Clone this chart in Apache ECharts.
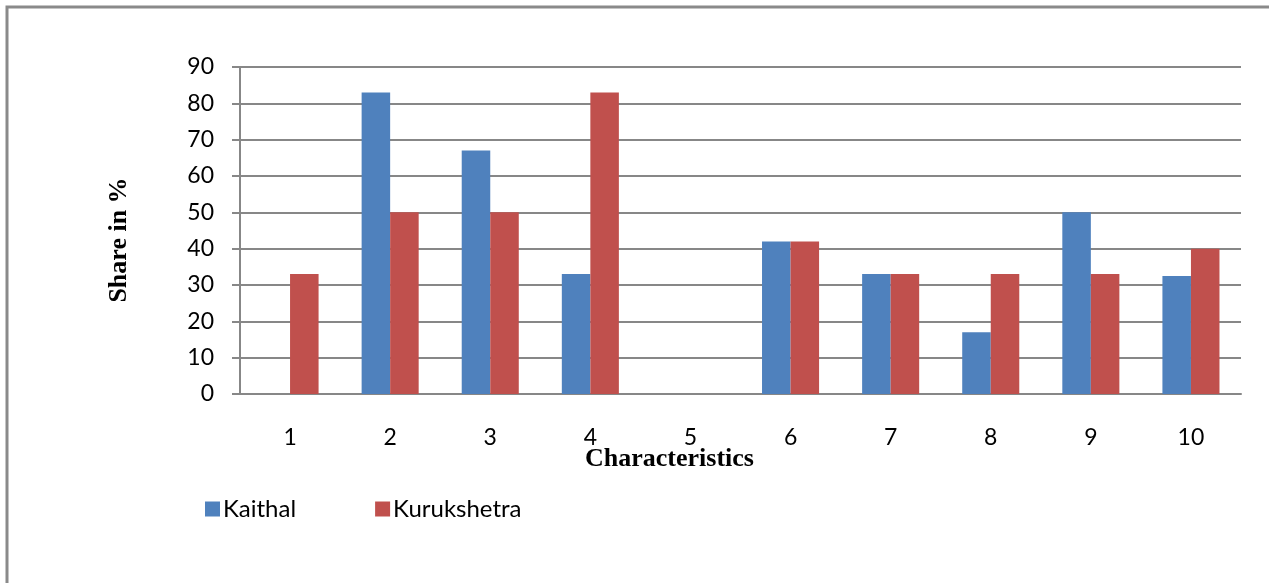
<!DOCTYPE html>
<html>
<head>
<meta charset="utf-8">
<script src="https://cdn.jsdelivr.net/npm/echarts@6/dist/echarts.min.js"></script>
<style>
  html, body { margin: 0; padding: 0; background: #ffffff; }
  #chart { width: 1269px; height: 583px; }
</style>
</head>
<body>
<div id="chart"></div>
<script>
const categories = ['1', '2', '3', '4', '5', '6', '7', '8', '9', '10'];
const kaithal = [0, 83, 67, 33, 0, 42, 33, 17, 50, 32.5];
const kurukshetra = [33, 50, 50, 83, 0, 42, 33, 33, 33, 40];
const seriesNames = ['Kaithal', 'Kurukshetra'];
const yAxisTitle = 'Share in %';
const xAxisTitle = 'Characteristics';

const chart = echarts.init(document.getElementById('chart'), null, { renderer: 'canvas' });
const labelFont = 'Lato';
chart.setOption({
  animation: false,
  backgroundColor: '#ffffff',
  grid: { left: 240, right: 28, top: 67, bottom: 189, containLabel: false },
  legend: {
    data: seriesNames,
    left: 200,
    top: 492,
    icon: 'rect',
    itemWidth: 15,
    itemHeight: 15,
    itemGap: 79,
    textStyle: { fontFamily: labelFont, fontSize: 24, color: '#000000', padding: [0, 0, 0, -2] }
  },
  xAxis: {
    type: 'category',
    data: categories,
    axisLine: { show: true, lineStyle: { color: '#878787', width: 2 } },
    axisTick: { show: false },
    axisLabel: { color: '#000000', fontFamily: labelFont, fontSize: 23, margin: 32 },
    splitLine: { show: false }
  },
  yAxis: {
    type: 'value',
    min: 0,
    max: 90,
    interval: 10,
    axisLine: { show: true, lineStyle: { color: '#878787', width: 2 } },
    axisTick: { show: true, length: 8, lineStyle: { color: '#878787', width: 2 } },
    axisLabel: { color: '#000000', fontFamily: labelFont, fontSize: 23, margin: 26 },
    splitLine: { show: true, lineStyle: { color: '#878787', width: 2 } }
  },
  series: [
    {
      name: seriesNames[0],
      type: 'bar',
      data: kaithal,
      barWidth: '28.5%',
      barGap: '0%',
      itemStyle: { color: '#4F81BD' }
    },
    {
      name: seriesNames[1],
      type: 'bar',
      data: kurukshetra,
      barWidth: '28.5%',
      barGap: '0%',
      itemStyle: { color: '#C0504D' }
    }
  ],
  graphic: [
    {
      type: 'rect',
      silent: true,
      shape: { x: 7, y: 7, width: 1300, height: 700 },
      style: { fill: 'none', stroke: '#8a8a8a', lineWidth: 3 }
    },
    {
      type: 'text',
      silent: true,
      left: 585,
      top: 446,
      style: { text: xAxisTitle, fontFamily: 'Liberation Serif', fontWeight: 'bold', fontSize: 26, fill: '#000000' }
    },
    {
      type: 'text',
      silent: true,
      x: 119,
      y: 240,
      rotation: Math.PI / 2,
      style: {
        text: yAxisTitle, fontFamily: 'Liberation Serif', fontWeight: 'bold', fontSize: 26, fill: '#000000',
        textAlign: 'center', textVerticalAlign: 'middle'
      }
    }
  ]
});
</script>
</body>
</html>
